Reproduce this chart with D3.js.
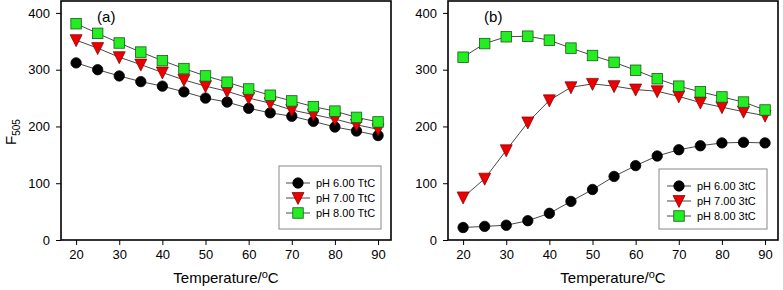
<!DOCTYPE html>
<html><head><meta charset="utf-8">
<script src="https://cdn.jsdelivr.net/npm/d3@7"></script>
<style>
html,body{margin:0;padding:0;background:#fff;}
svg{display:block;font-family:"Liberation Sans",Arial,sans-serif;}
</style></head>
<body><svg id="chart" width="783" height="290"></svg>
<script>
const temperatures = [20,25,30,35,40,45,50,55,60,65,70,75,80,85,90];
const xTicks = [20,30,40,50,60,70,80,90];
const yTicks = [0,100,200,300,400];

// Panel (a) TtC
const a_pH6 = [312,300,289,279,271,261,250,243,232,224,218,209,199,192,184];
const a_pH7 = [352,338,322,309,295,282,271,262,250,241,229,221,213,203,195];
const a_pH8 = [381,364,347,331,316,302,289,278,266,255,245,235,227,216,208];
// Panel (b) 3tC
const b_pH6 = [22,24,26,34,47,68,89,112,131,148,159,166,171,172,171];
const b_pH7 = [75,108,158,207,246,269,275,271,265,262,253,242,234,226,219];
const b_pH8 = [322,346,358,359,352,338,325,313,299,284,271,261,252,243,229];

const labelsA = ["pH 6.00 TtC","pH 7.00 TtC","pH 8.00 TtC"];
const labelsB = ["pH 6.00 3tC","pH 7.00 3tC","pH 8.00 3tC"];
const markers = ["circle","triangle","square"];
const fills = ["#000000","#ee0000","#22ee22"];

const svg = d3.select("#chart");
const y = d3.scaleLinear().domain([0,421]).range([240,1]);

function panel(x0, x1, series, labels, tag, legend){
  const x = d3.scaleLinear().domain([16.5,93]).range([x0,x1]);
  const g = svg.append("g");
  // axes
  const xa = g.append("g").attr("transform","translate(0,240)")
    .call(d3.axisBottom(x).tickValues(xTicks).tickSize(5).tickPadding(5));
  const ya = g.append("g").attr("transform",`translate(${x0},0)`)
    .call(d3.axisLeft(y).tickValues(yTicks).tickSize(5).tickPadding(6));
  [xa,ya].forEach(a=>{
    a.select(".domain").remove();
    a.selectAll("line").attr("stroke","#000").attr("stroke-width",1);
    a.selectAll("text").attr("font-size",13).attr("fill","#000")
      .attr("font-family","'Liberation Sans',Arial,sans-serif");
  });
  // frame
  g.append("rect").attr("x",x0).attr("y",1).attr("width",x1-x0).attr("height",239)
    .attr("fill","none").attr("stroke","#000").attr("stroke-width",1.6);

  const line = d3.line().x((d,i)=>x(temperatures[i])).y(d=>y(d));
  series.forEach((s,k)=>{
    g.append("path").datum(s).attr("d",line).attr("fill","none")
      .attr("stroke","#333").attr("stroke-width",0.9);
  });
  series.forEach((s,k)=>{
    s.forEach((v,i)=>drawMarker(g, markers[k], x(temperatures[i]), y(v), fills[k]));
  });
  // panel tag
  g.append("text").attr("x",x(20)+21).attr("y",22).attr("font-size",15)
    .attr("fill","#000").text(tag);
  // x title
  const t = g.append("text").attr("x",(x0+x1)/2).attr("y",283).attr("text-anchor","middle")
    .attr("font-size",15).attr("fill","#000");
  t.append("tspan").text("Temperature/");
  t.append("tspan").attr("dy",-5).attr("font-size",11).text("o");
  t.append("tspan").attr("dy",5).text("C");
  // legend
  const L = legend;
  g.append("rect").attr("x",L.x).attr("y",L.y).attr("width",L.w).attr("height",L.h)
    .attr("fill","#fff").attr("stroke","#888").attr("stroke-width",1);
  labels.forEach((lab,k)=>{
    const cy = L.y + 17 + k*15;
    g.append("line").attr("x1",L.mx-12).attr("x2",L.mx+12).attr("y1",cy).attr("y2",cy)
      .attr("stroke","#333").attr("stroke-width",0.9);
    drawMarker(g, markers[k], L.mx, cy, fills[k]);
    g.append("text").attr("x",L.mx+18).attr("y",cy+4).attr("font-size",11)
      .attr("fill","#000").text(lab);
  });
}

function drawMarker(g, type, cx, cy, fill){
  if(type==="circle"){
    g.append("circle").attr("cx",cx).attr("cy",cy).attr("r",5.2)
      .attr("fill",fill).attr("stroke","#000").attr("stroke-width",0.8);
  } else if(type==="square"){
    const s=10.5;
    g.append("rect").attr("x",cx-s/2).attr("y",cy-s/2).attr("width",s).attr("height",s)
      .attr("fill",fill).attr("stroke","#1a5a1a").attr("stroke-width",0.8);
  } else {
    const w=6, h=5.5;
    g.append("path").attr("d",`M${cx-w},${cy-h}L${cx+w},${cy-h}L${cx},${cy+h+1}Z`)
      .attr("fill",fill).attr("stroke","#700").attr("stroke-width",0.7);
  }
}

panel(61, 391, [a_pH6,a_pH7,a_pH8], labelsA, "(a)", {x:279,y:166,w:102,h:63,mx:298});
panel(448, 778, [b_pH6,b_pH7,b_pH8], labelsB, "(b)", {x:659,y:169,w:108,h:60,mx:679});

// y title
const yt = svg.append("text").attr("transform","translate(16,132) rotate(-90)")
  .attr("text-anchor","middle").attr("font-size",15).attr("fill","#000");
yt.append("tspan").text("F");
yt.append("tspan").attr("dy",4).attr("font-size",10).text("505");
</script></body></html>
